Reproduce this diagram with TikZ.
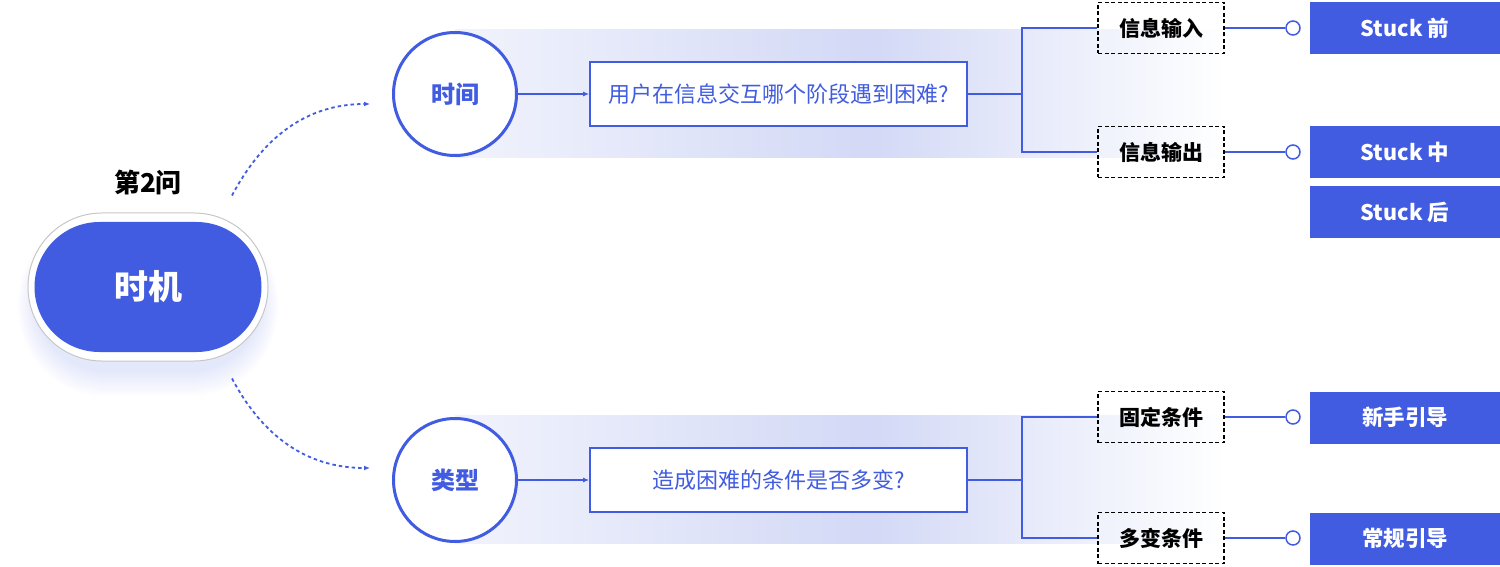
\documentclass[tikz,border=0pt]{standalone}
\usepackage{fontspec}
\setmainfont{Noto Sans CJK SC}
\usetikzlibrary{arrows.meta}
\definecolor{mainblue}{HTML}{415CE0}
\definecolor{haze}{HTML}{D3D9F6}
\definecolor{hazelight}{HTML}{F1F3FC}
\tikzstyle{pillring}=[draw=black!22, line width=1pt, fill=white, minimum width=240pt, minimum height=148pt, rounded corners=74pt]
\tikzstyle{pill}=[fill=mainblue, minimum width=227pt, minimum height=130pt, rounded corners=65pt, text=white, font=\fontsize{34}{40}\selectfont\bfseries]
\tikzstyle{topic}=[circle, draw=mainblue, line width=3pt, fill=white, minimum size=123pt, inner sep=0pt, text=mainblue, font=\fontsize{24}{28}\selectfont\bfseries]
\tikzstyle{question}=[draw=mainblue, line width=1.6pt, fill=white, minimum width=377pt, minimum height=64pt, text=mainblue, font=\fontsize{22}{26}\selectfont]
\tikzstyle{factor}=[draw=black, dash pattern=on 4pt off 2.5pt, line width=1.4pt, minimum width=126pt, minimum height=51pt, font=\fontsize{21}{25}\selectfont\bfseries]
\tikzstyle{answer}=[fill=mainblue, minimum width=190pt, minimum height=52pt, text=white, font=\fontsize{21.5}{25}\selectfont\bfseries]
\tikzstyle{knob}=[circle, draw=mainblue, line width=1.5pt, fill=white, minimum size=14pt, inner sep=0pt]
\tikzstyle{link}=[mainblue, line width=1.5pt]
\tikzstyle{flow}=[mainblue, line width=1.8pt, dash pattern=on 3.5pt off 3pt, -{Latex[length=6pt,width=5pt]}]
\newcommand{\factor}{\node[factor]}
\newcommand{\answer}{\node[answer]}

\begin{document}
\begin{tikzpicture}[x=1pt, y=1pt]
\useasboundingbox (0,0) rectangle (1500,566);
\shade[left color=hazelight, right color=haze] (455,408) rectangle (870,536);
\shade[left color=haze, right color=white] (870,408) rectangle (1225,536);
\shade[left color=hazelight, right color=haze] (455,23) rectangle (870,151);
\shade[left color=haze, right color=white] (870,23) rectangle (1225,151);
\foreach \i in {1,...,12}
  \fill[mainblue, opacity=0.013, rounded corners=70+1.5*\i] (36-1.5*\i,196-2.2*\i) rectangle (260+1.5*\i,336+1.2*\i);
\node[pillring] (ring) at (148,279) {};
\node[pill] (pill) at (148,279) {时机};
\node[font=\fontsize{26}{30}\selectfont\bfseries] (ask) at (148,384) {第2问};
\node[topic] (time) at (455,472) {时间};
\node[topic] (kind) at (455,86) {类型};
\node[question] (q1) at (778.5,472) {用户在信息交互哪个阶段遇到困难?};
\node[question] (q2) at (778.5,86) {造成困难的条件是否多变?};
\coordinate (j1) at (1022,472);
\coordinate (j2) at (1022,86);
\factor (in) at (1161,538) {信息输入};
\factor (out) at (1161,414) {信息输出};
\factor (fix) at (1161,149) {固定条件};
\factor (vary) at (1161,28) {多变条件};
\node[knob] (k1) at (1293,538) {};
\node[knob] (k2) at (1293,414) {};
\node[knob] (k3) at (1293,149) {};
\node[knob] (k4) at (1293,28) {};
\answer (before) at (1405,538) {Stuck 前};
\answer (during) at (1405,413.5) {Stuck 中};
\answer (after) at (1405,353.5) {Stuck 后};
\answer (novice) at (1405,148.5) {新手引导};
\answer (usual) at (1405,27.5) {常规引导};
\draw[flow] ([xshift=84pt,yshift=17pt]ring.north) to[out=62,in=180] ([xshift=-22pt,yshift=-10pt]time.west);
\draw[flow] ([xshift=84pt,yshift=-17pt]ring.south) to[out=-62,in=180] ([xshift=-22pt,yshift=12pt]kind.west);
\draw[link, -{Latex[length=6pt,width=5pt]}] (time) -- (q1);
\draw[link, -{Latex[length=6pt,width=5pt]}] (kind) -- (q2);
\draw[link] (q1.east) -- (j1) |- (in.west) (j1) |- (out.west);
\draw[link] (q2.east) -- (j2) |- (fix.west) (j2) |- (vary.west);
\draw[link] (in) -- (k1) (out) -- (k2) (fix) -- (k3) (vary) -- (k4);
\end{tikzpicture}
\end{document}
